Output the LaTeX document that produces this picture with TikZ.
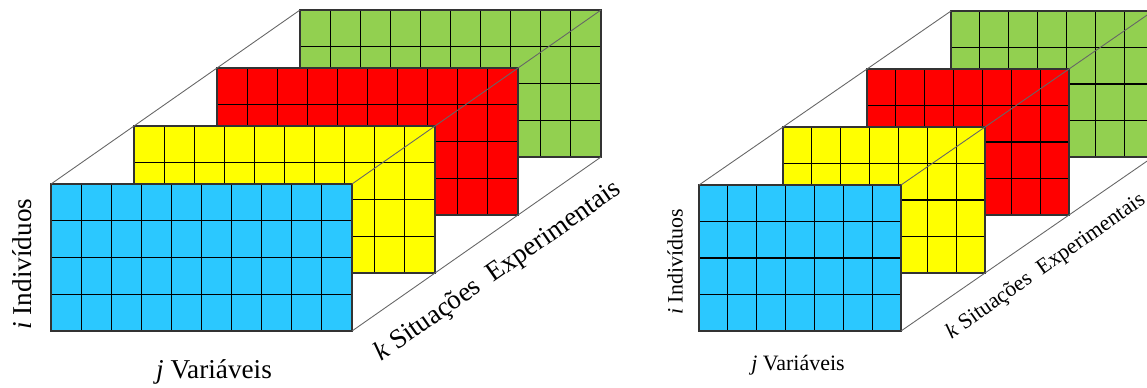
\documentclass[tikz,border=0pt]{standalone}
\usepackage{fontspec}
\setmainfont{Liberation Serif}

\definecolor{azul}{HTML}{2BC8FF}
\definecolor{amarelo}{HTML}{FFFF00}
\definecolor{vermelho}{HTML}{FF0000}
\definecolor{verde}{HTML}{92D050}

\tikzset{
  grade/.style={black, line width=0.6pt},
  borda/.style={black!80, line width=0.7pt},
  aresta/.style={black!60, line width=0.5pt},
  rotulo/.style={inner sep=0pt, anchor=base}
}

\begin{document}
\begin{tikzpicture}[x=0.02cm, y=-0.02cm]
    \useasboundingbox (0,0) rectangle (1147,387);
    \clip (0,0) rectangle (1147,387);

    % Diagrama esquerdo: 10 colunas x 4 linhas
    \foreach \k/\cor in {3/verde, 2/vermelho, 1/amarelo, 0/azul} {
      \pgfmathsetmacro{\xa}{51+83*\k}
      \pgfmathsetmacro{\ya}{184-58*\k}
      \fill[\cor] (\xa,\ya) rectangle ++(301,147); % Camada
      \foreach \c in {1,...,9} {
        \draw[grade] (\xa+30.1*\c,\ya) -- ++(0,147);
      }
      \foreach \r in {1,2,3} {
        \draw[grade] (\xa,\ya+36.75*\r) -- ++(301,0);
      }
      \draw[borda] (\xa,\ya) rectangle ++(301,147);
      \coordinate (Eno\k) at (\xa,\ya);          % canto superior esquerdo
      \coordinate (Ene\k) at (\xa+301,\ya);      % canto superior direito
      \coordinate (Ese\k) at (\xa+301,\ya+147);  % canto inferior direito
    }

    % Arestas da caixa (esquerda)
    \draw[aresta] (Eno0) -- (Eno3);
    \draw[aresta] (Ene0) -- (Ene3);
    \draw[aresta] (Ese0) -- (Ese3);

    % Rotulos (esquerda)
    \node[rotulo, rotate=90, anchor=center, font=\fontsize{15.5}{18}\selectfont] (indivE) at (22,264) {\textit{i} Indivíduos};
    \node[rotulo, font=\fontsize{15.5}{18}\selectfont] (varE) at (214,378) {\textit{j} Variáveis};
    \node[rotulo, rotate=35, font=\fontsize{15.5}{18}\selectfont] (sitE) at (502,277) {\textit{k} Situações\ \ Experimentais};

    % Diagrama direito: 7 colunas x 4 linhas
    \foreach \k/\cor in {3/verde, 2/vermelho, 1/amarelo, 0/azul} {
      \pgfmathsetmacro{\xa}{699+84*\k}
      \pgfmathsetmacro{\ya}{185-58*\k}
      \fill[\cor] (\xa,\ya) rectangle ++(202,146); % Camada
      \foreach \c in {1,...,6} {
        \draw[grade] (\xa+28.857*\c,\ya) -- ++(0,146);
      }
      \foreach \r in {1,2,3} {
        \draw[grade] (\xa,\ya+36.5*\r) -- ++(202,0);
      }
      \draw[borda] (\xa,\ya) rectangle ++(202,146);
      \coordinate (Dno\k) at (\xa,\ya);
      \coordinate (Dne\k) at (\xa+202,\ya);
      \coordinate (Dse\k) at (\xa+202,\ya+146);
    }

    % Arestas da caixa (direita)
    \draw[aresta] (Dno0) -- (Dno3);
    \draw[aresta] (Dne0) -- (Dne3);
    \draw[aresta] (Dse0) -- (Dse3);

    % Rotulos (direita)
    \node[rotulo, rotate=90, anchor=center, font=\fontsize{12.5}{15}\selectfont] (indivD) at (675,262) {\textit{i} Indivíduos};
    \node[rotulo, font=\fontsize{12.5}{15}\selectfont] (varD) at (798,370) {\textit{j} Variáveis};
    \node[rotulo, rotate=35, font=\fontsize{12.5}{15}\selectfont] (sitD) at (1049,271) {\textit{k} Situações\ \ Experimentais};

\end{tikzpicture}
\end{document}
